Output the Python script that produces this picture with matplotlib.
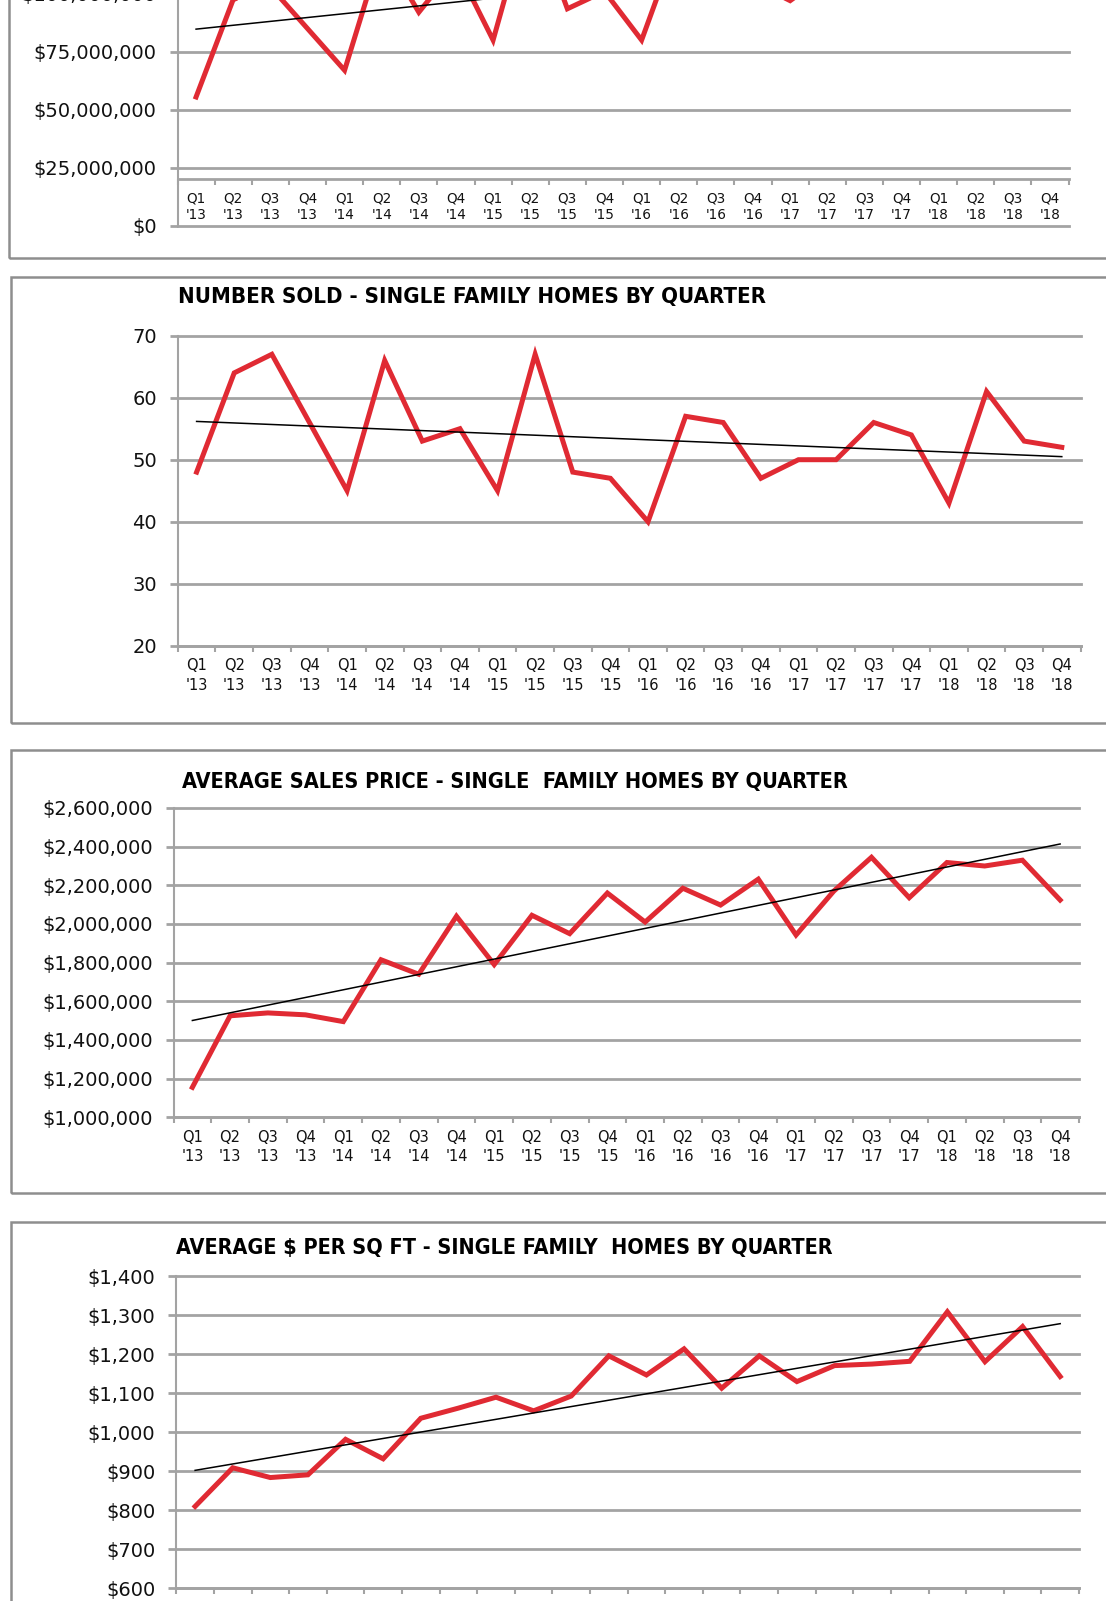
import numpy as np
from matplotlib import pyplot as plt
from matplotlib import ticker
from matplotlib.patches import Rectangle

########
# Data #
########

quarters = ["Q1", "Q2", "Q3", "Q4"]
years = ["13", "14", "15", "16", "17", "18"]

# dollar volume, in $ millions (top chart, mostly cut off)
dollar_volume_m = [55.5, 97.5, 103, 85, 67, 119, 92, 112, 80, 137, 93.5, 101,
                   80, 124, 117, 105, 97, 108.5, 131, 115, 100, 140, 123.5, 110.5]

number_sold = [48, 64, 67, 56, 45, 66, 53, 55, 45, 67, 48, 47,
               40, 57, 56, 47, 50, 50, 56, 54, 43, 61, 53, 52]

avg_price = [1155000, 1525000, 1540000, 1530000, 1495000, 1815000, 1740000, 2040000,
             1790000, 2045000, 1950000, 2160000, 2010000, 2185000, 2098000, 2232000,
             1943000, 2170000, 2345000, 2136000, 2318000, 2300000, 2330000, 2124000]

price_sqft = [810, 909, 884, 891, 982, 932, 1036, 1062, 1090, 1055, 1093, 1196,
              1147, 1214, 1113, 1196, 1130, 1171, 1175, 1182, 1309, 1181, 1271, 1143]

titles = ["NUMBER SOLD - SINGLE FAMILY HOMES BY QUARTER",
          "AVERAGE SALES PRICE - SINGLE  FAMILY HOMES BY QUARTER",
          "AVERAGE $ PER SQ FT - SINGLE FAMILY  HOMES BY QUARTER"]

labels = [q + "\n'" + y for y in years for q in quarters]

##########
# Layout #
##########

W, H = 1106, 1601
RED = "#e02a33"
GRID = "#a3a3a3"
FRAME = "#8e8e8e"
TICK_FONT = "DejaVu Sans"

fig = plt.figure(figsize=(W / 100, H / 100), dpi=100)
fig.patch.set_facecolor("white")


# axes placed by pixel edges (y measured from top)
def px_axes(left, right, top, bottom):
    return fig.add_axes([left / W, 1 - bottom / H, (right - left) / W, (bottom - top) / H])


# panel frame, also by pixel edges
def frame(left, right, top, bottom):
    r = Rectangle((left / W, 1 - bottom / H), (right - left) / W, (bottom - top) / H,
                  transform=fig.transFigure, fill=False, edgecolor=FRAME, lw=1.8)
    fig.add_artist(r)


def style(ax, ymin, ymax, step, fmt, xsize, xspacing):
    x = np.arange(len(labels))
    ax.set_xlim(-0.5, len(labels) - 0.5)
    ax.set_ylim(ymin, ymax)
    ax.yaxis.set_major_locator(ticker.MultipleLocator(step))
    ax.yaxis.set_major_formatter(fmt)
    for v in np.arange(ymin, ymax + step / 2, step):
        ax.axhline(v, color=GRID, lw=2.0, zorder=0.5, clip_on=False)
    for s in ["top", "right"]:
        ax.spines[s].set_visible(False)
    ax.spines["left"].set_color(GRID)
    ax.spines["left"].set_linewidth(1.5)
    ax.spines["bottom"].set_color(GRID)
    ax.spines["bottom"].set_linewidth(2.0)
    ax.xaxis.set_major_locator(ticker.FixedLocator(np.arange(-0.5, len(labels), 1.0)))
    ax.xaxis.set_major_formatter(ticker.NullFormatter())
    ax.xaxis.set_minor_locator(ticker.FixedLocator(x))
    ax.xaxis.set_minor_formatter(ticker.FixedFormatter(labels))
    ax.tick_params(axis="x", which="major", length=4, width=1.5, color=GRID)
    ax.tick_params(axis="x", which="minor", length=0, pad=9, labelsize=xsize,
                   labelcolor="#111111")
    ax.tick_params(axis="y", length=6, width=2.0, color=GRID, pad=9, labelsize=14,
                   labelcolor="#111111")
    for lab in ax.get_xticklabels(minor=True):
        lab.set_linespacing(xspacing)
        lab.set_family(TICK_FONT)
    for lab in ax.get_yticklabels():
        lab.set_family(TICK_FONT)


def series(ax, values):
    x = np.arange(len(values))
    ax.plot(x, values, color=RED, lw=3.6, zorder=3, solid_joinstyle="miter")
    coef = np.polyfit(x, values, 1)
    ends = np.array([x[0], x[-1]])
    ax.plot(ends, np.polyval(coef, ends), color="black", lw=1.1, zorder=4)


def title(px, py, text, size):
    fig.text(px / W, 1 - py / H, text, ha="left", va="center", fontsize=size,
             fontweight="bold", family="DejaVu Sans", fontstretch="condensed")


money = ticker.FuncFormatter(lambda v, p: "${:,.0f}".format(v))

##########
# Panels #
##########

# frames
frame(8.5, 1300, -400, 258.3)
frame(10.6, 1300, 276.7, 722.7)
frame(10.6, 1300, 750, 1193.3)
frame(10.6, 1300, 1221.7, 1900)

# dollar volume (top, cut off by the page)
ax1 = px_axes(177.5, 1068.6, -6.3, 225.8)
series(ax1, np.array(dollar_volume_m) * 1e6)
style(ax1, 0, 100e6, 25e6, money, 9.8, 1.25)
ax1.spines["bottom"].set_position(("data", 20e6))

# number sold
ax2 = px_axes(177.8, 1080.6, 335.7, 645.7)
series(ax2, number_sold)
style(ax2, 20, 70, 10, ticker.StrMethodFormatter("{x:.0f}"), 10.5, 1.4)

# average sales price
ax3 = px_axes(173.5, 1079, 808, 1117.3)
series(ax3, avg_price)
style(ax3, 1000000, 2600000, 200000, money, 10.5, 1.35)

# average $ per sq ft
ax4 = px_axes(176.3, 1079, 1276.3, 1588.3)
series(ax4, price_sqft)
style(ax4, 600, 1400, 100, money, 10.5, 1.35)

# titles
title(178, 296.7, titles[0], 15.9)
title(182, 781.7, titles[1], 15.6)
title(176, 1248, titles[2], 15.5)

fig.savefig("out.png", dpi=100, facecolor="white")
